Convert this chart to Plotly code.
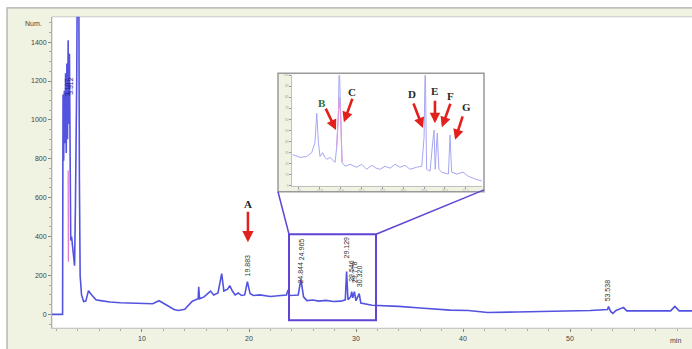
import plotly.graph_objects as go

# ---------------- data ----------------
main_time = [1.6, 2.5, 2.58, 2.62, 2.68, 2.74, 2.8, 2.86, 2.92, 2.98, 3.04, 3.1, 3.16, 3.22, 3.28,
             3.34, 3.42, 3.55, 3.7, 3.78, 3.9, 3.98, 4.08, 4.15, 4.22, 4.35, 4.55, 4.75, 5.0, 5.3,
             5.7, 6.0, 7.0, 8.0, 9.0, 9.8, 11.0, 11.6, 12.3, 13.0, 13.4, 14.0, 14.7, 15.1, 15.25,
             15.3, 15.38, 15.8, 16.4, 16.7, 17.1, 17.45, 17.65, 18.0, 18.2, 18.45, 18.7, 19.0, 19.3,
             19.6, 19.85, 20.1, 20.4, 21.0, 22.0, 23.0, 23.5, 23.65, 23.8, 24.2, 24.6, 24.85, 25.1,
             25.4, 26.0, 26.5, 27.2, 27.9, 28.6, 29.0, 29.12, 29.25, 29.5, 29.6, 29.7, 29.85, 30.0,
             30.3, 30.45, 31.5, 32.5, 34.0, 36.0, 38.8, 40.5, 41.9, 42.3, 45.0, 48.0, 50.0, 51.9,
             53.5, 53.6, 53.8, 54.0, 54.3, 55.0, 55.3, 57.0, 59.4, 59.8, 60.2, 61.4]
main_signal = [0, 0, 0, 1130, 790, 1150, 880, 1240, 830, 1290, 900, 1410, 980, 1340, 780,
               380, 400, 330, 250, 560, 1200, 2000, 2000, 700, 200, 100, 66, 68, 122, 100,
               75, 72, 64, 60, 58, 56, 55, 70, 46, 25, 20, 26, 68, 76, 80,
               142, 80, 90, 120, 100, 110, 210, 120, 130, 148, 120, 100, 110, 97,
               100, 168, 107, 97, 100, 92, 97, 100, 125, 97, 98, 100, 180, 90,
               71, 74, 68, 72, 66, 68, 75, 220, 75, 90, 117, 85, 117, 70,
               107, 58, 47, 46, 41, 33, 22, 20, 15, 10, 12, 15, 15, 20,
               25, 40, 15, 5, 20, 36, 18, 18, 18, 41, 18, 18]
pink_time = [3.1, 3.12]
pink_signal = [740, 270]

main_peak_times = [3.05, 3.3, 19.88, 24.8, 24.98, 29.12, 29.55, 29.8, 30.32, 53.54]
main_peak_labels = ["3.107", "3.312", "19.883", "24.844", "24.965", "29.129",
                    "29.546", "29.778", "30.320", "53.538"]
main_peak_label_base = [1110, 1120, 183, 150, 270, 275, 158, 150, 132, 56]

inset_time = [23.73, 24.05, 24.33, 24.55, 24.69, 24.77, 24.84, 24.91, 25.02, 25.12, 25.2, 25.34,
              25.56, 25.63, 25.7, 25.74, 25.8, 25.86, 25.99, 26.2, 26.49, 26.71, 26.92, 27.15,
              27.33, 27.5, 27.71, 27.93, 28.15, 28.36, 28.58, 28.79, 29.08, 29.3, 29.4, 29.45,
              29.51, 29.66, 29.77, 29.83, 29.88, 29.97, 30.04, 30.16, 30.45, 30.52, 30.59, 30.81,
              31.08, 31.3, 31.6, 31.89]
inset_signal = [28.3, 25.7, 26.5, 30, 39, 65.5, 39, 26.5, 30, 25.7, 24, 25.7,
                21.2, 35.4, 63.7, 112, 63.7, 21.2, 17.7, 19.5, 16.8, 19.5, 15, 18.6,
                16, 15, 17.7, 16, 19.5, 16.8, 18.6, 15, 16.8, 17.7, 44, 112,
                15, 13.3, 39, 50.4, 15, 47.8, 15, 12.4, 10.6, 46, 12.4, 10.6,
                12.4, 8.8, 6.2, 4.4]
inset_pink_time = [25.63, 25.7, 25.74, 25.8, 25.86]
inset_pink_signal = [35.4, 63.7, 80, 63.7, 21.2]

inset_letters = ["B", "C", "D", "E", "F", "G"]
inset_letter_time = [24.99, 26.29, 28.88, 29.87, 30.52, 31.25]
inset_letter_signal = [75.2, 85, 83.2, 85.8, 81.4, 70.8]
inset_arrow_time = [25.6, 25.94, 29.35, 29.87, 30.17, 30.74]
inset_arrow_signal = [50.4, 57.5, 52.2, 56.6, 53, 41.6]
inset_arrow_dx = [-11, 9, -10, 0, 9, 8]
inset_arrow_dy = [-23, -25, -26, -24, -25, -25]

y_ticks = [0, 200, 400, 600, 800, 1000, 1200, 1400]
x_ticks = [10, 20, 30, 40, 50]

# ---------------- geometry ----------------
W, H = 692, 349
X_RANGE = [1.59, 61.4]
Y_RANGE = [-71.2, 1530]
X_DOM = [52 / W, 1.0]
Y_DOM = [(H - 330) / H, (H - 15) / H]


def to_paper(m, v):
    px = X_DOM[0] + (m - X_RANGE[0]) / (X_RANGE[1] - X_RANGE[0]) * (X_DOM[1] - X_DOM[0])
    py = Y_DOM[0] + (v - Y_RANGE[0]) / (Y_RANGE[1] - Y_RANGE[0]) * (Y_DOM[1] - Y_DOM[0])
    return px, py


BLUE = "#5353e0"
PALE = "#f0f2e2"
FRAME = "#a8a8a8"
RED = "#e3211c"
BOX = "#6244d4"

fig = go.Figure()
fig.add_trace(go.Scatter(x=main_time, y=main_signal, mode="lines",
                         line=dict(color=BLUE, width=1.6), xaxis="x", yaxis="y",
                         hoverinfo="skip"))
fig.add_trace(go.Scatter(x=pink_time, y=pink_signal, mode="lines",
                         line=dict(color="#e070d8", width=1.2), xaxis="x", yaxis="y",
                         hoverinfo="skip"))
fig.add_trace(go.Scatter(x=inset_time, y=inset_signal, mode="lines",
                         line=dict(color="#a6a6f2", width=1.0), xaxis="x2", yaxis="y2",
                         hoverinfo="skip"))
fig.add_trace(go.Scatter(x=inset_pink_time, y=inset_pink_signal, mode="lines",
                         line=dict(color="#e49ae4", width=1.2), xaxis="x2", yaxis="y2",
                         hoverinfo="skip"))

# inset frame geometry (paper)
IN_X_DOM = [292 / W, 482 / W]
IN_Y_DOM = [(H - 186) / H, (H - 74) / H]
fr_x0, fr_x1 = 278 / W, 484 / W
fr_y0, fr_y1 = (H - 192) / H, (H - 72) / H

shapes = [
    dict(type="rect", xref="paper", yref="paper", x0=7 / W, x1=1.02, y0=-0.02, y1=(H - 6) / H,
         fillcolor=PALE, line=dict(color=FRAME, width=1.2), layer="below"),
    dict(type="rect", xref="paper", yref="paper", x0=X_DOM[0], x1=1.01, y0=Y_DOM[0], y1=Y_DOM[1],
         fillcolor="white", line=dict(color="#c8c8c8", width=1), layer="below"),
    dict(type="rect", xref="paper", yref="paper", x0=fr_x0, x1=fr_x1, y0=fr_y0, y1=fr_y1,
         fillcolor=PALE, line=dict(color="#9a9a9a", width=1.5), layer="below"),
    dict(type="rect", xref="paper", yref="paper", x0=IN_X_DOM[0], x1=fr_x1 - 1 / W,
         y0=IN_Y_DOM[0], y1=fr_y1 - 1 / H,
         fillcolor="white", line=dict(width=0), layer="below"),
]

box_t0, box_t1 = 23.74, 31.87
box_v0, box_v1 = -30.5, 412
shapes.append(dict(type="rect", xref="x", yref="y", x0=box_t0, x1=box_t1, y0=box_v0, y1=box_v1,
                   line=dict(color=BOX, width=2), fillcolor="rgba(0,0,0,0)", layer="above"))
p_tl = to_paper(box_t0, box_v1)
p_tr = to_paper(box_t1, box_v1)
shapes.append(dict(type="line", xref="paper", yref="paper", x0=p_tl[0], y0=p_tl[1],
                   x1=fr_x0, y1=fr_y0, line=dict(color=BOX, width=1.5), layer="above"))
shapes.append(dict(type="line", xref="paper", yref="paper", x0=p_tr[0], y0=p_tr[1],
                   x1=fr_x1, y1=fr_y0 + 2 / H, line=dict(color=BOX, width=1.5), layer="above"))

annotations = []
for i, (t, lab, base) in enumerate(zip(main_peak_times, main_peak_labels, main_peak_label_base)):
    col = "#1d1d8a" if t < 5 else "#333333"
    annotations.append(dict(x=t, y=base, xref="x", yref="y", text=lab, showarrow=False,
                            textangle=-90, xanchor="center", yanchor="bottom",
                            font=dict(family="Liberation Sans, Arial", size=7, color=col)))

annotations.append(dict(x=19.9, y=371, xref="x", yref="y", text="<b>A</b>", showarrow=True,
                        ax=0, ay=-38, arrowcolor=RED, arrowwidth=2.5, arrowhead=2, arrowsize=0.9,
                        standoff=0,
                        font=dict(family="Liberation Serif, Times New Roman", size=11, color="#222")))

for lt, lx, ly, atx, aty, dx, dy in zip(inset_letters, inset_letter_time, inset_letter_signal,
                                         inset_arrow_time, inset_arrow_signal,
                                         inset_arrow_dx, inset_arrow_dy):
    annotations.append(dict(x=atx, y=aty, xref="x2", yref="y2", text="", showarrow=True,
                            ax=dx, ay=dy, arrowcolor=RED, arrowwidth=2.6, arrowhead=2,
                            arrowsize=0.8, standoff=0))
    col = "#2f6b45" if lt == "B" else "#2a2a2a"
    annotations.append(dict(x=lx, y=ly, xref="x2", yref="y2", text="<b>%s</b>" % lt,
                            showarrow=False,
                            font=dict(family="Liberation Serif, Times New Roman", size=11,
                                      color=col)))

annotations.append(dict(x=44 / W, y=(H - 22) / H, xref="paper", yref="paper", text="Num.",
                        showarrow=False, xanchor="right", yanchor="middle",
                        font=dict(family="Liberation Sans, Arial", size=7, color="#444")))
annotations.append(dict(x=683 / W, y=(H - 342) / H, xref="paper", yref="paper", text="min",
                        showarrow=False, yanchor="middle",
                        font=dict(family="Liberation Sans, Arial", size=7, color="#444")))

fig.update_layout(
    width=W, height=H, margin=dict(l=0, r=0, t=0, b=0),
    paper_bgcolor="white", plot_bgcolor="rgba(0,0,0,0)",
    showlegend=False,
    shapes=shapes, annotations=annotations,
    xaxis=dict(domain=X_DOM, range=X_RANGE, tickvals=x_ticks, ticks="outside", ticklen=3,
               tickcolor="#888", showgrid=False, zeroline=False, showline=True,
               linecolor="#c8c8c8", linewidth=1,
               tickfont=dict(family="Liberation Sans, Arial", size=7, color="#444"),
               minor=dict(dtick=2, ticks="outside", ticklen=2, tickcolor="#aaa"),
               anchor="y"),
    yaxis=dict(domain=Y_DOM, range=Y_RANGE, tickvals=y_ticks, ticks="outside", ticklen=3,
               tickcolor="#888", showgrid=False, zeroline=False, showline=True,
               linecolor="#b0b0b0", linewidth=1,
               tickfont=dict(family="Liberation Sans, Arial", size=7, color="#444"),
               minor=dict(dtick=50, ticks="outside", ticklen=2, tickcolor="#aaa"),
               anchor="x"),
    xaxis2=dict(domain=IN_X_DOM, range=[23.7, 31.9], dtick=0.9, tick0=24.0, ticks="outside",
                ticklen=2, tickcolor="#999", showgrid=False, zeroline=False, showline=True,
                linecolor="#c0c0c0", anchor="y2",
                tickfont=dict(size=3, color="#999")),
    yaxis2=dict(domain=IN_Y_DOM, range=[0, 100], dtick=10, ticks="outside", ticklen=2,
                tickcolor="#999", showgrid=False, zeroline=False, showline=True,
                linecolor="#c0c0c0", anchor="x2",
                tickfont=dict(size=3, color="#999")),
)

fig.write_html("out.html", config={"displayModeBar": False},
               post_script="document.body.style.margin='0';document.body.style.overflow='hidden';")
